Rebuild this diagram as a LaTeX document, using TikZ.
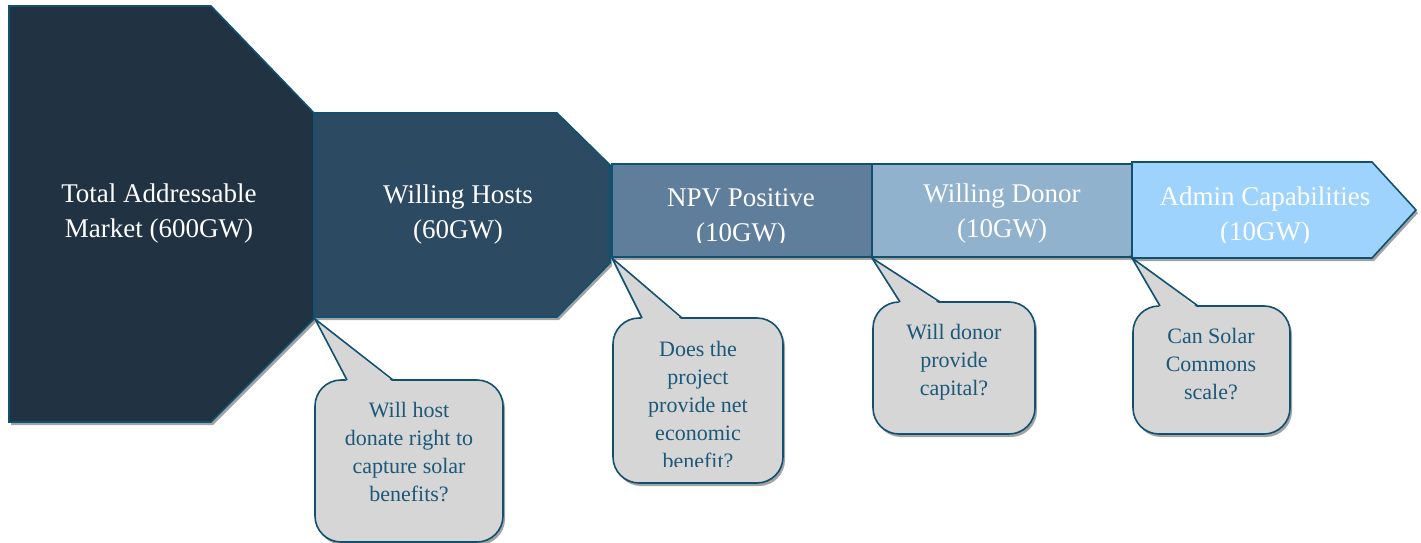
\documentclass[tikz,border=0pt]{standalone}
\usepackage{fontspec}
\setmainfont{Liberation Serif}
\usetikzlibrary{shadows}

\definecolor{edgeblue}{HTML}{12506F}
\definecolor{tamfill}{HTML}{213243}
\definecolor{hostfill}{HTML}{2D4A63}
\definecolor{npvfill}{HTML}{5F7E9B}
\definecolor{donorfill}{HTML}{91B2CD}
\definecolor{adminfill}{HTML}{9ED3FD}
\definecolor{askgray}{HTML}{D6D6D6}
\definecolor{asktext}{HTML}{1C5877}

\tikzset{
  stage/.style={draw=edgeblue,line width=1.6pt,line join=miter,
    drop shadow={shadow xshift=2pt,shadow yshift=-3pt,fill=black!45,opacity=.8}},
  stagelabel/.style={text=white,align=center,inner sep=0pt,
    font=\fontsize{27}{35}\selectfont},
  bubble/.style={draw=edgeblue,line width=1.6pt,fill=askgray,rounded corners=26pt,
    drop shadow={shadow xshift=2pt,shadow yshift=-3pt,fill=black!45,opacity=.8}},
  tail/.style={draw=edgeblue,line width=1.6pt,line join=miter},
  asklabel/.style={text=asktext,align=center,inner sep=0pt,
    font=\fontsize{22}{28}\selectfont}
}

\begin{document}
\begin{tikzpicture}[x=1pt,y=-1pt]
    \useasboundingbox (0,0) rectangle (1421,543);

    % funnel stages
    \draw[stage,fill=tamfill](9,6)--(211,6)--(314,113)--(314,319)--(211,422)--(9,422)--cycle;
    \draw[stage,fill=hostfill](314,113)--(557,113)--(610,165)--(610,263)--(557,317)--(314,317)--cycle;
    \draw[stage,fill=npvfill](612,164) rectangle (872,257);
    \draw[stage,fill=donorfill](872,164) rectangle (1132,257);
    \draw[stage,fill=adminfill](1132,162)--(1372,162)--(1416,210)--(1372,258)--(1132,258)--cycle;

    \node[stagelabel] (tam) at (159,214) {Total Addressable\\Market (600GW)};
    \node[stagelabel] (hosts) at (458,215) {Willing Hosts\\(60GW)};
    \begin{scope}
        \clip (612,164) rectangle (1416,242);
        \node[stagelabel] (npv) at (741,218) {NPV Positive\\(10GW)};
        \node[stagelabel] (donor) at (1002,214) {Willing Donor\\(10GW)};
        \node[stagelabel] (admin) at (1265,217) {Admin Capabilities\\(10GW)};
    \end{scope}

    % question bubbles
    \draw[bubble](315,380) rectangle (503,542);
    \fill[askgray](347,382)--(315,319)--(393,382)--cycle;
    \draw[tail](347,380)--(315,319)--(393,380);
    \node[asklabel] (askhost) at (409,452) {Will host\\donate right to\\capture solar\\benefits?};

    \draw[bubble](613,318) rectangle (783,483);
    \fill[askgray](642,320)--(612,258)--(682,320)--cycle;
    \draw[tail](642,318)--(612,258)--(682,318);
    \begin{scope}
        \clip (613,318) rectangle (783,466);
        \node[asklabel] (askproject) at (698,405) {Does the\\project\\provide net\\economic\\benefit?};
    \end{scope}

    \draw[bubble](873,302) rectangle (1035,434);
    \fill[askgray](900,304)--(872,258)--(940,304)--cycle;
    \draw[tail](900,302)--(872,258)--(940,302);
    \node[asklabel] (askdonor) at (954,362) {Will donor\\provide\\capital?};

    \draw[bubble](1133,306) rectangle (1290,434);
    \fill[askgray](1160,308)--(1132,258)--(1198,308)--cycle;
    \draw[tail](1160,306)--(1132,258)--(1198,306);
    \node[asklabel] (askscale) at (1211,364) {Can Solar\\Commons\\scale?};
\end{tikzpicture}
\end{document}
